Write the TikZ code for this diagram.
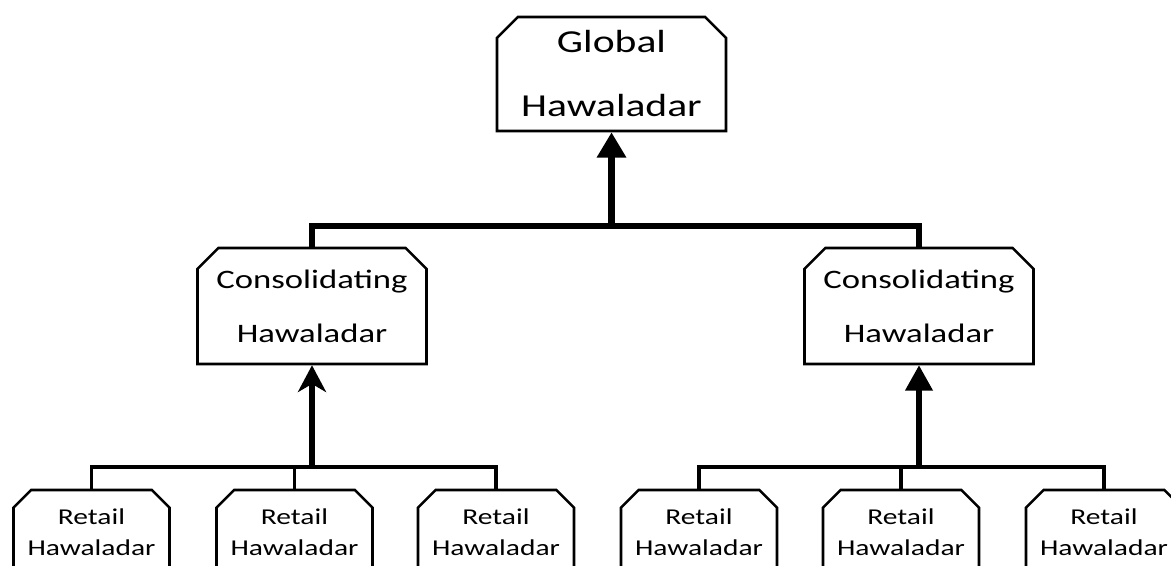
\documentclass[tikz,border=0pt]{standalone}
\usepackage{fontspec}
\setmainfont{Carlito}[FakeStretch=1.3]
\usetikzlibrary{shapes.misc,arrows.meta}
\newcommand{\boxline}{1.9pt}
\newcommand{\busline}{2.6pt}

\begin{document}
\begin{tikzpicture}[x=0.75pt,y=-0.75pt,
  hbox/.style={chamfered rectangle, chamfered rectangle corners={north west,north east},
    draw, line width=\boxline, fill=white, inner sep=0pt, align=center},
  globbox/.style={hbox, minimum width=171.75pt, minimum height=85.5pt,
    chamfered rectangle xsep=12.5pt, font=\fontsize{24}{48}\selectfont},
  consbox/.style={hbox, minimum width=171.75pt, minimum height=87pt,
    chamfered rectangle xsep=12.5pt, font=\fontsize{20}{40.5}\selectfont},
  retbox/.style={hbox, minimum width=117pt, minimum height=63pt,
    chamfered rectangle xsep=10pt, font=\fontsize{17}{23.25}\selectfont},
  topline/.style={line width=5pt},
  upline/.style={line width=3.8pt},
  busline/.style={line width=\busline}]

 \useasboundingbox (0,0) rectangle (1171,565);
 \clip (0,0) rectangle (1171,565);

 % top level
 \node[globbox] (glob) at (611.5,74) {Global\\Hawaladar};

 % middle level
 \node[consbox] (consA) at (312,306) {Consolidating\\Hawaladar};
 \node[consbox] (consB) at (919,306) {Consolidating\\Hawaladar};

 % bottom level
 \node[retbox] (retA) at (91.5,532) {Retail\\Hawaladar};
 \node[retbox] (retB) at (294.5,532) {Retail\\Hawaladar};
 \node[retbox] (retC) at (496,532) {Retail\\Hawaladar};
 \node[retbox] (retD) at (699,532) {Retail\\Hawaladar};
 \node[retbox] (retE) at (901,532) {Retail\\Hawaladar};
 \node[retbox] (retF) at (1104,532) {Retail\\Hawaladar};

 \coordinate (gbus) at (611.5,226);
 \coordinate (abus) at (312,467);
 \coordinate (bbus) at (919,467);

 % connectors
 \draw[topline] (consB.north) |- (gbus);
 \draw[topline] (consA.north) |- (gbus);
 \draw[topline, -{Triangle[width=21pt,length=19pt]}] (gbus) -- (glob.south);

 \draw[busline] (retA.north) |- (abus);
 \draw[busline] (retB.north) |- (abus);
 \draw[busline] (retC.north) |- (abus);
 \draw[upline, -{Stealth[width=21pt,length=20pt,inset=6pt]}] (abus) -- (consA.south);

 \draw[busline] (retD.north) |- (bbus);
 \draw[busline] (retE.north) |- (bbus);
 \draw[busline] (retF.north) |- (bbus);
 \draw[upline, -{Triangle[width=20pt,length=19pt]}] (bbus) -- (consB.south);

\end{tikzpicture}
\end{document}
